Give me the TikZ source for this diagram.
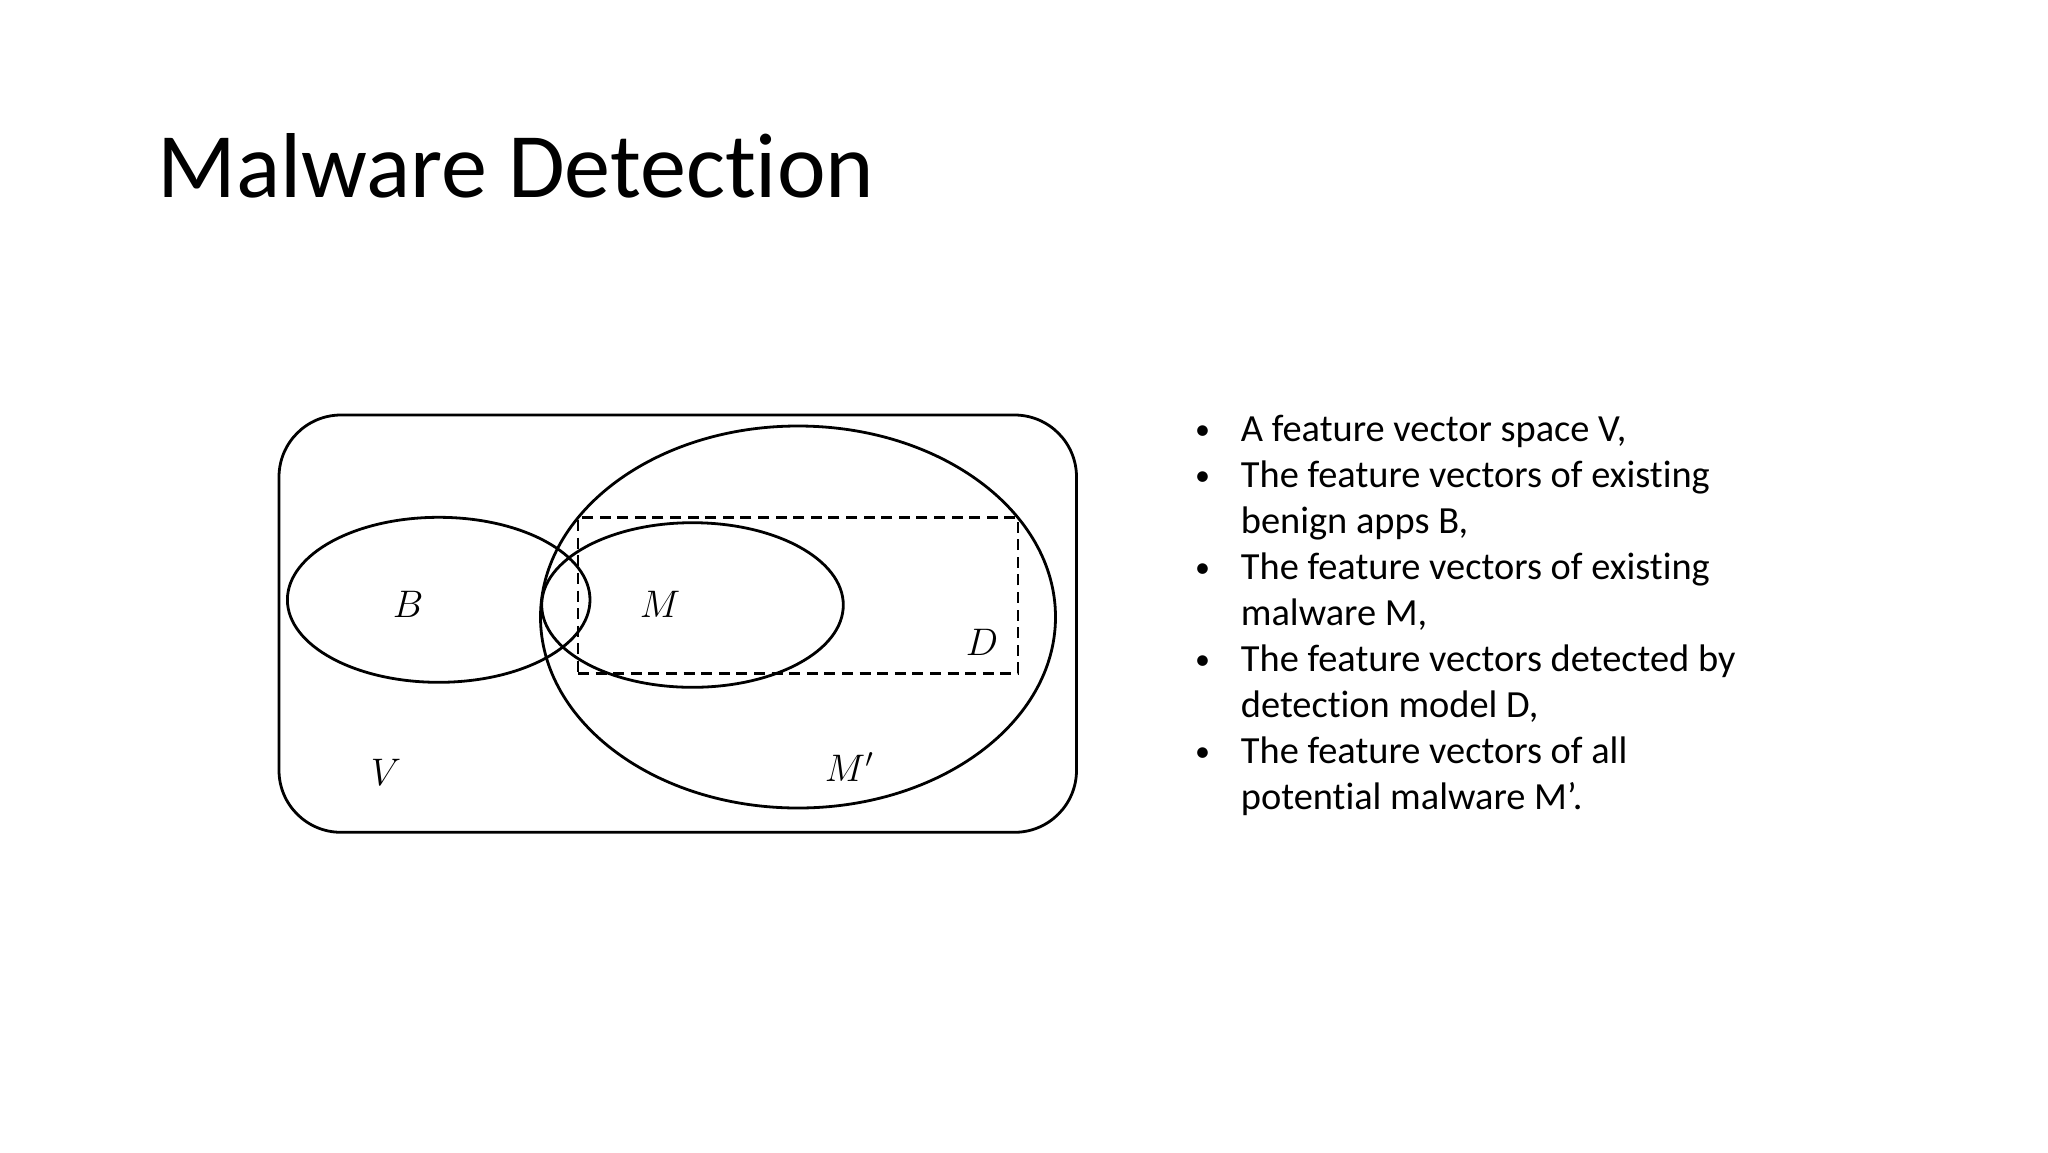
\RequirePackage{fix-cm}
\documentclass[tikz,border=0pt]{standalone}
\usepackage{fontspec}
\setmainfont{Carlito}[Ligatures={NoCommon,NoContextual}]
\usetikzlibrary{shapes.geometric}
\begin{document}
\begin{tikzpicture}[x=1pt,y=-1pt,
  setline/.style={draw=black,line width=2.8pt,inner sep=0pt,outer sep=0pt},
  setell/.style={setline,ellipse},
  dset/.style={setline,dash pattern=on 11pt off 6.6pt},
  lbl/.style={inner sep=0pt,anchor=base,font=\fontsize{38.4}{46}\selectfont},
  btxt/.style={inner sep=0pt,anchor=base west,font=\fontsize{38.4}{46}\selectfont},
  bul/.style={inner sep=0pt,anchor=base,font=\fontsize{30}{46}\selectfont},
  ttl/.style={inner sep=0pt,anchor=base west,font=\fontsize{92.2}{110}\selectfont}]
\useasboundingbox[fill=white] (0,0) rectangle (2048,1152);
% title
\node[ttl] (title) at (157,197.3) {Malware Detection};
% universe V
\node[setline,rounded corners=62pt,minimum width=797.5pt,minimum height=417.3pt] (Vbox) at (677.75,623.65) {};
% M'
\node[setell,minimum width=515pt,minimum height=382pt] (Mp) at (798,617) {};
% B
\node[setell,minimum width=302.6pt,minimum height=165pt] (B) at (438.7,599.8) {};
% M
\node[setell,minimum width=301.6pt,minimum height=164.6pt] (M) at (692.5,605) {};
% D
\node[dset,minimum width=440pt,minimum height=155.8pt] (D) at (798,595.4) {};
% labels
\node[lbl] (lB) at (408,617.3) {$B$};
\node[lbl] (lM) at (660,617.3) {$M$};
\node[lbl] (lD) at (982,655.7) {$D$};
\node[lbl] (lV) at (386,785.7) {$V$};
\node[lbl] (lMp) at (849,781.7) {$M'$};
% bullets
\node[bul] (b1) at (1202.7,439.7) {•};
\node[btxt] (t1) at (1240.7,441.7) {A feature vector space V,};
\node[bul] (b2) at (1202.7,485.7) {•};
\node[btxt] (t2) at (1240.7,487.7) {The feature vectors of existing};
\node[btxt] (t3) at (1240.7,533.7) {benign apps B,};
\node[bul] (b4) at (1202.7,577.7) {•};
\node[btxt] (t4) at (1240.7,579.7) {The feature vectors of existing};
\node[btxt] (t5) at (1240.7,625.7) {malware M,};
\node[bul] (b6) at (1202.7,669.7) {•};
\node[btxt] (t6) at (1240.7,671.7) {The feature vectors detected by};
\node[btxt] (t7) at (1240.7,717.7) {detection model D,};
\node[bul] (b8) at (1202.7,761.7) {•};
\node[btxt] (t8) at (1240.7,763.7) {The feature vectors of all};
\node[btxt] (t9) at (1240.7,809.7) {potential malware M’.};
\end{tikzpicture}
\end{document}
